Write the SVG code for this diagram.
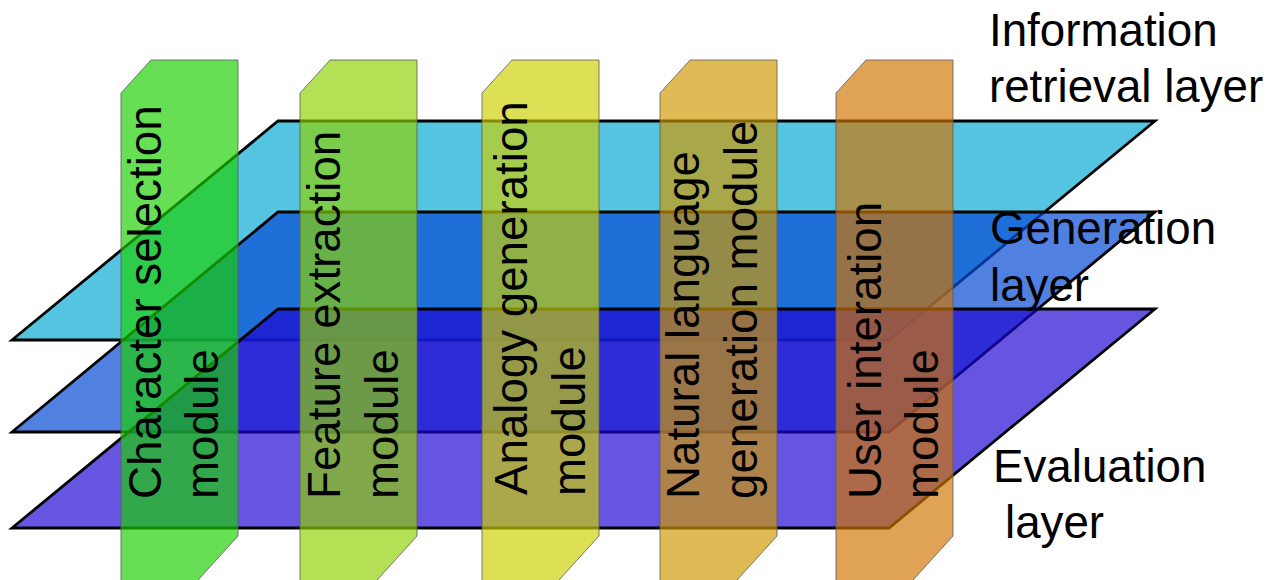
<svg xmlns="http://www.w3.org/2000/svg" width="1267" height="580" viewBox="0 0 1267 580">
<style>
.layer{stroke:#000;stroke-width:2.8;stroke-linejoin:miter}
.mod{stroke:#5a5a5a;stroke-opacity:0.8;stroke-width:1;fill-opacity:0.67}
.t{font-family:"Liberation Sans",Arial,sans-serif;font-size:45.7px;fill:#000}
</style>
<rect width="1267" height="580" fill="#fff"/>
<g id="layer-information-retrieval">
<polygon class="layer" points="278,121 1155,121 889,340 12,340" fill="#55C4E0"/>
</g>
<g id="layer-generation">
<polygon class="layer" points="278,212 1155,212 889,432 12,432" fill="rgb(7,75,211)" fill-opacity="0.706"/>
</g>
<g id="layer-evaluation">
<polygon class="layer" points="278,309 1155,309 889,528 12,528" fill="rgb(30,5,209)" fill-opacity="0.68"/>
</g>
<g id="connectors"></g>
<g id="module-character-selection">
<path class="mod" fill="rgb(27,207,1)" d="M121,93 L151,60 L238,60 L238,536 L188,591 L121,591 Z"/>
<text class="t" transform="translate(161,499) rotate(-90)">Character selection</text>
<text class="t" transform="translate(218,499) rotate(-90)">module</text>
</g>
<g id="module-feature-extraction">
<path class="mod" fill="rgb(142,209,1)" d="M300,93 L330,60 L417,60 L417,536 L367,591 L300,591 Z"/>
<text class="t" transform="translate(340,499) rotate(-90)">Feature extraction</text>
<text class="t" transform="translate(398,499) rotate(-90)">module</text>
</g>
<g id="module-analogy-generation">
<path class="mod" fill="rgb(204,209,1)" d="M482,93 L512,60 L599,60 L599,536 L549,591 L482,591 Z"/>
<text class="t" transform="translate(527,495) rotate(-90)">Analogy generation</text>
<text class="t" transform="translate(585,496) rotate(-90)">module</text>
</g>
<g id="module-natural-language-generation">
<path class="mod" fill="rgb(209,154,1)" d="M660,93 L690,60 L777,60 L777,536 L727,591 L660,591 Z"/>
<text class="t" transform="translate(699,499) rotate(-90)">Natural language</text>
<text class="t" transform="translate(757,499) rotate(-90)">generation module</text>
</g>
<g id="module-user-interation">
<path class="mod" fill="rgb(209,117,1)" d="M836,93 L866,60 L953,60 L953,536 L903,591 L836,591 Z"/>
<text class="t" transform="translate(881,499) rotate(-90)">User interation</text>
<text class="t" transform="translate(938,499) rotate(-90)">module</text>
</g>
<g id="label-information-retrieval">
<text class="t" x="989" y="46">Information</text>
<text class="t" x="989" y="102">retrieval layer</text>
</g>
<g id="label-generation">
<text class="t" x="990" y="244">Generation</text>
<text class="t" x="990" y="301">layer</text>
</g>
<g id="label-evaluation">
<text class="t" x="993" y="482">Evaluation</text>
<text class="t" x="1005" y="538">layer</text>
</g>
</svg>
